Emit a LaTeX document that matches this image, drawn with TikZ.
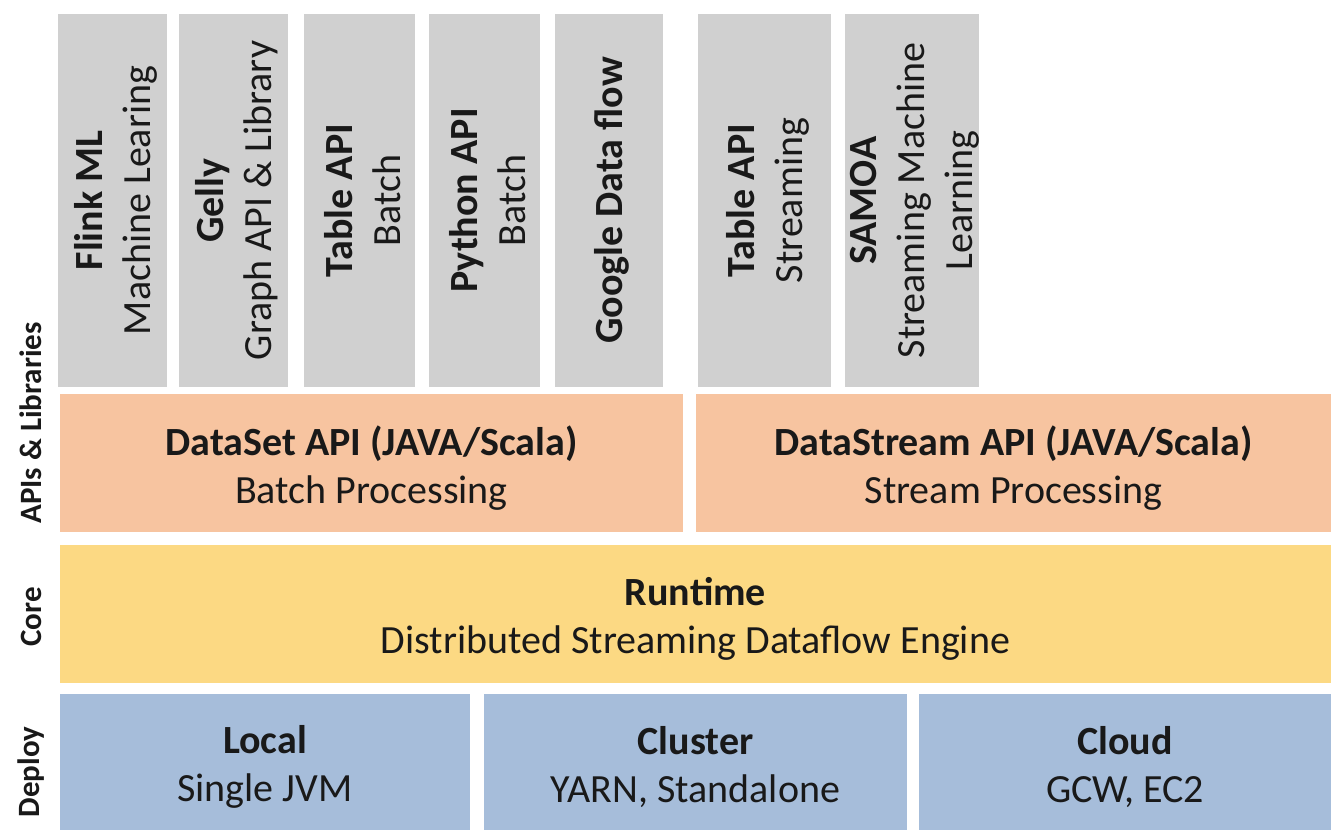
\documentclass[tikz,border=0pt]{standalone}
\usepackage{fontspec}
\setmainfont{Carlito}
\begin{document}
\begin{tikzpicture}[x=1pt,y=-1pt,
  box/.style={inner sep=0pt, outer sep=0pt},
  graybox/.style={box, fill=gray3},
  orangebox/.style={box, fill=orange3},
  yellowbox/.style={box, fill=yellow3},
  bluebox/.style={box, fill=blue3},
  txt/.style={inner sep=0pt, align=center, text=black!90,
    font=\fontsize{40}{48}\selectfont},
  vtxt/.style={txt, rotate=90},
  sidelabel/.style={inner sep=0pt, rotate=90, text=black!90,
    font=\fontsize{31}{37}\selectfont\bfseries}]
\definecolor{gray3}{HTML}{D0D0D0}
\definecolor{orange3}{HTML}{F7C4A0}
\definecolor{yellow3}{HTML}{FCD983}
\definecolor{blue3}{HTML}{A6BDDA}
\useasboundingbox[fill=white] (0,0) rectangle (1334,835);
% gray library boxes
\node[graybox, minimum width=109, minimum height=373] (flinkml) at (112.5,200.5) {};
\node[graybox, minimum width=109, minimum height=373] (gelly) at (233.5,200.5) {};
\node[graybox, minimum width=111, minimum height=373] (tablebatch) at (359.5,200.5) {};
\node[graybox, minimum width=111, minimum height=373] (python) at (484.5,200.5) {};
\node[graybox, minimum width=108, minimum height=373] (google) at (609,200.5) {};
\node[graybox, minimum width=133, minimum height=373] (tablestream) at (764.5,200.5) {};
\node[graybox, minimum width=134, minimum height=373] (samoa) at (912,200.5) {};
\node[vtxt] (flinkmlT) at ([xshift=3pt]flinkml.center) {\textbf{Flink ML}\\Machine Learing};
\node[vtxt] (gellyT) at ([xshift=3pt]gelly.center) {\textbf{Gelly}\\Graph API \& Library};
\node[vtxt] (tablebatchT) at ([xshift=3pt]tablebatch.center) {\textbf{Table API}\\Batch};
\node[vtxt] (pythonT) at ([xshift=3pt]python.center) {\textbf{Python API}\\Batch};
\node[vtxt] (googleT) at ([xshift=3pt]google.center) {\textbf{Google Data flow}};
\node[vtxt] (tablestreamT) at ([xshift=3pt]tablestream.center) {\textbf{Table API}\\Streaming};
\node[vtxt] (samoaT) at ([xshift=3pt]samoa.center) {\textbf{SAMOA}\\Streaming Machine\\Learning};
% APIs
\node[orangebox, minimum width=623, minimum height=138] (dataset) at (371.5,463) {};
\node[orangebox, minimum width=635, minimum height=138] (datastream) at (1013.5,463) {};
\node[txt] (datasetT) at ([yshift=-5pt]dataset.center) {\textbf{DataSet API (JAVA/Scala)}\\Batch Processing};
\node[txt] (datastreamT) at ([yshift=-5pt]datastream.center) {\textbf{DataStream API (JAVA/Scala)}\\Stream Processing};
% core
\node[yellowbox, minimum width=1271, minimum height=138] (runtime) at (695.5,614) {};
\node[txt] (runtimeT) at ([yshift=-5pt]runtime.center) {\textbf{Runtime}\\Distributed Streaming Dataflow Engine};
% deploy
\node[bluebox, minimum width=410, minimum height=136] (local) at (265,762) {};
\node[bluebox, minimum width=423, minimum height=136] (cluster) at (695.5,762) {};
\node[bluebox, minimum width=412, minimum height=136] (cloud) at (1125,762) {};
\node[txt] (localT) at ([yshift=-5pt]local.center) {\textbf{Local}\\Single JVM};
\node[txt] (clusterT) at ([yshift=-5pt]cluster.center) {\textbf{Cluster}\\YARN, Standalone};
\node[txt] (cloudT) at ([yshift=-5pt]cloud.center) {\textbf{Cloud}\\GCW, EC2};
% side labels
\node[sidelabel] (lblapi) at (31,423) {APIs \& Libraries};
\node[sidelabel] (lblcore) at (31,617) {Core};
\node[sidelabel] (lbldeploy) at (31,772) {Deploy};
\end{tikzpicture}
\end{document}
